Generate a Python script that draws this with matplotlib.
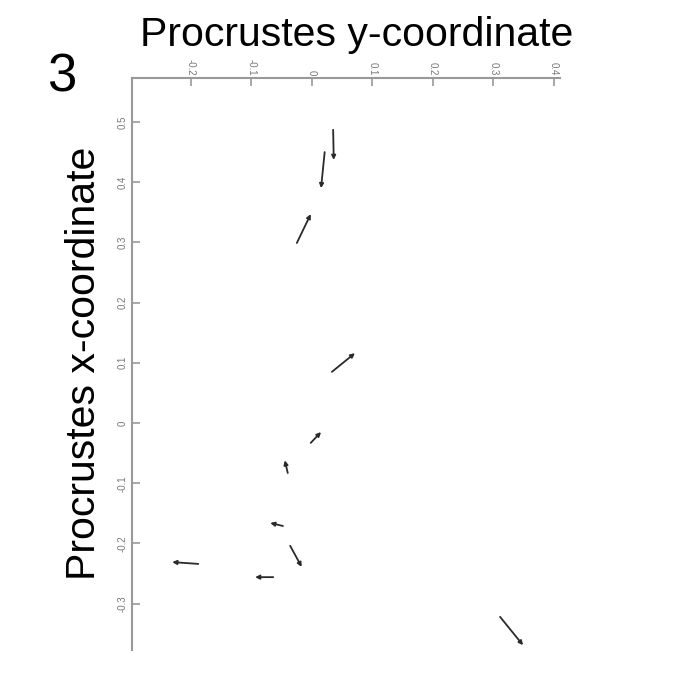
import matplotlib
matplotlib.use("Agg")
import matplotlib.pyplot as plt

# arrow tails / heads: horizontal = Procrustes y, vertical = Procrustes x
tail_y = [0.035, 0.021, -0.025, 0.033, -0.002, -0.040, -0.048, -0.036, -0.188, -0.064, 0.311]
tail_x = [0.487, 0.450, 0.299, 0.085, -0.033, -0.083, -0.171, -0.204, -0.234, -0.256, -0.322]
head_y = [0.036, 0.015, -0.002, 0.071, 0.015, -0.045, -0.069, -0.017, -0.231, -0.094, 0.349]
head_x = [0.437, 0.390, 0.347, 0.116, -0.015, -0.062, -0.166, -0.239, -0.231, -0.256, -0.369]

y_ticks = [-0.2, -0.1, 0, 0.1, 0.2, 0.3, 0.4]
x_ticks = [0.5, 0.4, 0.3, 0.2, 0.1, 0, -0.1, -0.2, -0.3]

plt.rcParams['font.family'] = ['Liberation Sans', 'DejaVu Sans']

fig = plt.figure(figsize=(6.97, 6.80), dpi=100)
ax = fig.add_axes([0.1894, 0.0441, 0.614, 0.8412])
ax.set_xlim(-0.2975, 0.41)
ax.set_ylim(-0.377, 0.573)

for ty, tx, hy, hx in zip(tail_y, tail_x, head_y, head_x):
    ax.annotate('', xy=(hy, hx), xytext=(ty, tx),
                arrowprops=dict(arrowstyle='-|>', lw=1.3, color='#2a2a2a',
                                mutation_scale=6, shrinkA=0, shrinkB=0))

for side in ['right', 'bottom']:
    ax.spines[side].set_visible(False)
for side in ['top', 'left']:
    ax.spines[side].set_color('#999999')
    ax.spines[side].set_linewidth(1.5)

ax.xaxis.tick_top()
ax.set_xticks(y_ticks)
ax.set_xticklabels([f'{v:g}' for v in y_ticks], rotation=-90)
ax.set_yticks(x_ticks)
ax.set_yticklabels([f'{v:g}' for v in x_ticks], rotation=90, va='center')
ax.tick_params(axis='both', direction='in', length=6, width=1.2, color='#999999',
               labelcolor='#777777', labelsize=7)
ax.tick_params(axis='x', pad=2)
ax.tick_params(axis='y', pad=3)

fig.text(0.512, 0.949, 'Procrustes y-coordinate', ha='center', va='center', fontsize=29.5)
fig.text(0.121, 0.466, 'Procrustes x-coordinate', ha='center', va='center',
         rotation=90, fontsize=29.5)
fig.text(0.089, 0.886, '3', ha='center', va='center', fontsize=38)

fig.savefig('out.png', dpi=100)
